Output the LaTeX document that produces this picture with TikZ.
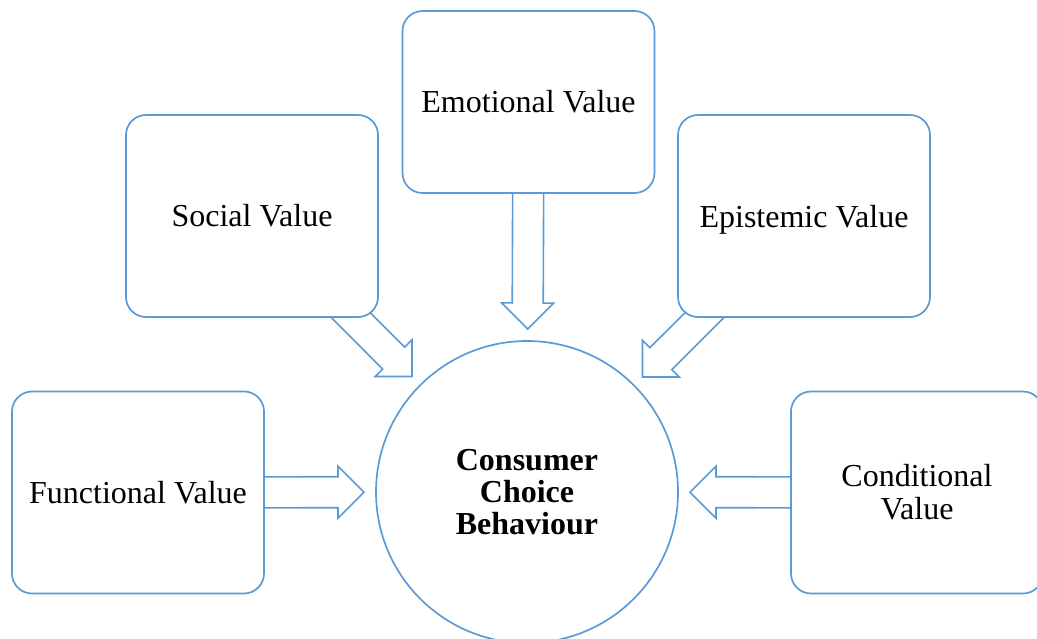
\documentclass[tikz,border=0pt]{standalone}
\usepackage{fontspec}
\setmainfont{Liberation Serif}
\usetikzlibrary{positioning}
\usetikzlibrary{calc}
\pgfdeclarelayer{background}
\pgfsetlayers{background,main}
\definecolor{ValueBlue}{RGB}{91,155,213}
\tikzset{
    ValueBox/.style={draw=ValueBlue,fill=white,line width=1.7pt,rounded corners=20pt,inner sep=0pt,outer sep=0pt,minimum width=252pt,minimum height=202pt,align=center,font=\fontsize{32}{33}\selectfont},
    ChoiceCircle/.style={draw=ValueBlue,fill=white,line width=1.7pt,circle,inner sep=0pt,minimum size=302pt,align=center,font=\bfseries\fontsize{32}{32}\selectfont},
    ValueArrow/.style={draw=ValueBlue,fill=white,line width=1.6pt,line join=miter}
}
% block arrow from a box centre to a tip point
\newcommand{\valarrow}[2]{%
    \draw[ValueArrow] let \p1 = ($(#2)-(#1)$), \n1 = {atan2(\y1,\x1)}, \n2 = {veclen(\x1,\y1)} in
        [shift={(#1)}, rotate=\n1]
        (0,-15.5) -- ({\n2-26},-15.5) -- ({\n2-26},-26) -- (\n2,0) -- ({\n2-26},26) -- ({\n2-26},15.5) -- (0,15.5) -- cycle;
}

\begin{document}
\begin{tikzpicture}[x=1pt,y=-1pt]
            \useasboundingbox (0,0) rectangle (1037,638);

            \node[ChoiceCircle] (cb) at (527,492) {Consumer\\Choice\\Behaviour};

            \node[ValueBox] (social) at (252,216) {Social Value};
            \node[ValueBox,minimum height=182pt] (emotional) at (528.5,102) {Emotional Value};
            \node[ValueBox,text depth=0pt] (epistemic) at (804,216) {Epistemic Value};
            \node[ValueBox] (functional) at (138,492.5) {Functional Value};
            \node[ValueBox] (conditional) at (917,492.5) {Conditional\\Value};

            \foreach \v in {social,emotional,epistemic,functional,conditional}
                \coordinate (tip-\v) at ($(cb)!163pt!(\v)$);

            \begin{pgfonlayer}{background}
                \foreach \v in {social,emotional,epistemic,functional,conditional}
                    {\valarrow{\v}{tip-\v}}
            \end{pgfonlayer}
\end{tikzpicture}
\end{document}
